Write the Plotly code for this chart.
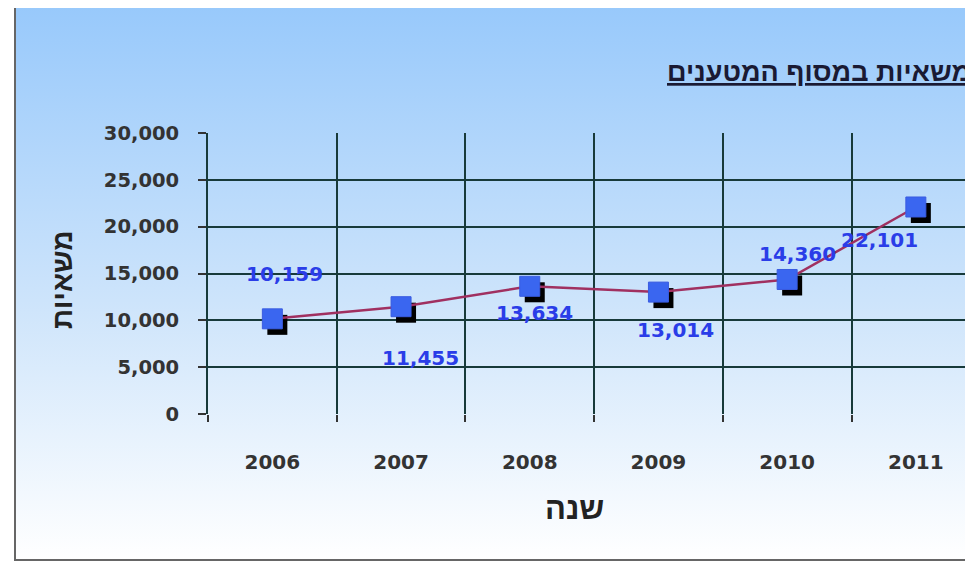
import base64
import plotly.graph_objects as go

years = ["2006", "2007", "2008", "2009", "2010", "2011"]
trucks = [10159, 11455, 13634, 13014, 14360, 22101]
y_ticks = [0, 5000, 10000, 15000, 20000, 25000, 30000]
title_text = "משאיות במסוף המטענים"
x_title = "שנה"
y_title = "משאיות"

# label offsets (pixels) relative to each point
label_dx = [12, 19, 5, 17, 10, -36]
label_dy = [45, -51, -27, -38, 25, -33]

W, H = 973, 563
OFF = 8  # page body margin: figure is drawn 8px right/down in the window
FONT = "DejaVu Sans, Liberation Sans, Arial"
HFONT = "Liberation Sans, Arial, DejaVu Sans"

def fx(sx):
    return (sx - OFF) / W

def fy(sy):
    return 1 - (sy - OFF) / H

x_idx = list(range(len(years)))
y_range = [0, 30000]

# plot area in window pixels
left, top, bottom = 208, 133, 414
cat_px = 128.7
right = W + OFF
x_range = [-0.5, -0.5 + (right - left) / cat_px]
px_per_cat = cat_px
px_per_val = (bottom - top) / (y_range[1] - y_range[0])
sh_x, sh_y = 5, 6
dx = sh_x / px_per_cat
dy = sh_y / px_per_val

fig = go.Figure()

# shadow markers
fig.add_trace(go.Scatter(
    x=x_idx, y=trucks, xaxis="x2", yaxis="y2", mode="markers",
    marker=dict(symbol="square", size=20, color="#000000"),
    hoverinfo="skip", showlegend=False))
# line + markers
fig.add_trace(go.Scatter(
    x=x_idx, y=trucks, xaxis="x3", yaxis="y3", mode="lines+markers",
    line=dict(color="#a03060", width=2.5),
    marker=dict(symbol="square", size=20, color="#3a66f0",
                line=dict(color="#3a5ce0", width=1)),
    showlegend=False))

annotations = []
for i, (v, ddx, ddy) in enumerate(zip(trucks, label_dx, label_dy)):
    annotations.append(dict(
        x=i, y=v, xref="x", yref="y", text=f"{v:,}", showarrow=False,
        xanchor="center", yanchor="middle",
        xshift=ddx, yshift=ddy,
        font=dict(family=FONT, size=20, color="#2a3de8", weight="bold")))

annotations += [
    dict(x=fx(973), y=fy(72), xref="paper", yref="paper", xanchor="right", yanchor="middle",
         text=f"<b><u>{title_text}</u></b>", showarrow=False,
         font=dict(family=HFONT, size=27, color="#1a1a33")),
    dict(x=fx(574), y=fy(508), xref="paper", yref="paper", xanchor="center",
         yanchor="middle", text=f"<b>{x_title}</b>", showarrow=False,
         font=dict(family=HFONT, size=31, color="#222222")),
    dict(x=fx(62), y=fy(280), xref="paper", yref="paper", textangle=-90,
         xanchor="center", yanchor="middle",
         text=f"<b>{y_title}</b>", showarrow=False,
         font=dict(family=HFONT, size=28, color="#222222")),
]

svg = (f'<svg xmlns="http://www.w3.org/2000/svg" width="{W}" height="{H}" preserveAspectRatio="none">'
       '<defs><linearGradient id="g" x1="0" y1="0" x2="0" y2="1">'
       '<stop offset="0" stop-color="#98c9fb"/><stop offset="0.55" stop-color="#cfe5fb"/>'
       '<stop offset="1" stop-color="#ffffff"/></linearGradient></defs>'
       f'<rect x="0" y="0" width="{W}" height="{H}" fill="url(#g)"/></svg>')
src = "data:image/svg+xml;base64," + base64.b64encode(svg.encode()).decode()

xdom = [fx(left), 1.0]
ydom = [fy(bottom), fy(top)]
grid_col = "#173a3a"
minor_vals = [i - 0.5 for i in range(len(years) + 1)]

fig.update_layout(
    width=W, height=H,
    autosize=False,
    margin=dict(l=0, r=0, t=0, b=0, pad=0, autoexpand=False),
    paper_bgcolor="#ffffff",
    plot_bgcolor="#a2ddd5",
    images=[dict(source=src, xref="paper", yref="paper", x=fx(15), y=fy(7),
                 sizex=1.05 - fx(15), sizey=fy(7) - fy(560), sizing="stretch",
                 xanchor="left", yanchor="top", layer="below")],
    shapes=[dict(type="rect", xref="paper", yref="paper", x0=fx(15), x1=1.05,
                 y0=fy(560), y1=fy(7), line=dict(color="#666666", width=2),
                 layer="below")],
    annotations=annotations,
    xaxis=dict(domain=xdom, range=x_range, tickmode="array", tickvals=x_idx,
               ticktext=years, showgrid=False, zeroline=False, automargin=False,
               ticks="", ticklabelstandoff=34,
               tickfont=dict(family=FONT, size=20, color="#333333", weight="bold"),
               minor=dict(tickmode="array", tickvals=minor_vals, showgrid=True,
                          gridcolor=grid_col, gridwidth=2, ticks="outside",
                          ticklen=7, tickcolor="#333333", tickwidth=1.5),
               showline=False, fixedrange=True),
    yaxis=dict(domain=ydom, range=y_range, tickmode="array", tickvals=y_ticks,
               tickformat=",", showgrid=True, gridcolor=grid_col, gridwidth=2,
               zeroline=False, ticks="outside", ticklen=8, tickcolor="#333333",
               tickwidth=1.5, ticklabelstandoff=15, automargin=False,
               tickfont=dict(family=FONT, size=19.5, color="#333333", weight="bold"),
               showline=True, linecolor=grid_col, linewidth=2, fixedrange=True),
    xaxis2=dict(overlaying="x", range=[x_range[0] - dx, x_range[1] - dx], visible=False,
                fixedrange=True, automargin=False),
    yaxis2=dict(overlaying="y", range=[y_range[0] + dy, y_range[1] + dy], visible=False,
                fixedrange=True, automargin=False),
    xaxis3=dict(overlaying="x", range=x_range, visible=False, fixedrange=True,
                automargin=False),
    yaxis3=dict(overlaying="y", range=y_range, visible=False, fixedrange=True,
                automargin=False),
)

fig.write_html("out.html")
